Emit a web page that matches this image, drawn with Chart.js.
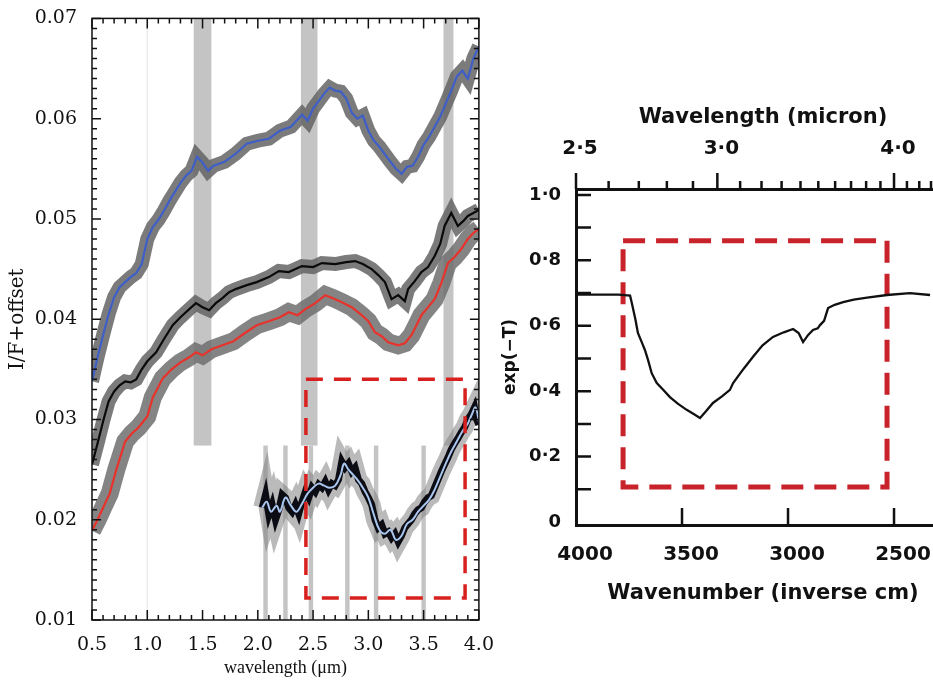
<!DOCTYPE html>
<html>
<head>
<meta charset="utf-8">
<script src="https://cdn.jsdelivr.net/npm/chart.js@4.4.1/dist/chart.umd.min.js"></script>
<style>
  html, body { margin: 0; padding: 0; background: #fff; overflow: hidden; width: 933px; height: 682px; }
  #left { position: absolute; left: 0; top: 0; }
  #right { position: absolute; left: 500px; top: 0; }
</style>
</head>
<body>
<canvas id="left" width="500" height="682"></canvas>
<canvas id="right" width="450" height="682"></canvas>
<script>
// ---- left panel: I/F spectra (wavelength in micron) ----
const blueWl = [0.50,0.55,0.60,0.65,0.70,0.75,0.80,0.85,0.90,0.95,1.00,1.05,1.10,1.15,1.20,1.25,1.30,1.35,1.40,1.45,1.50,1.55,1.60,1.70,1.80,1.90,2.00,2.10,2.20,2.30,2.40,2.45,2.50,2.60,2.65,2.70,2.75,2.80,2.85,2.90,2.95,3.00,3.05,3.10,3.20,3.25,3.30,3.35,3.40,3.45,3.50,3.55,3.60,3.65,3.70,3.75,3.80,3.85,3.90,3.95,4.00];
const blueIF = [0.0338,0.0362,0.0384,0.0405,0.0422,0.0432,0.0437,0.0442,0.0446,0.0455,0.0480,0.0492,0.0499,0.0508,0.0518,0.0527,0.0536,0.0543,0.0548,0.0562,0.0556,0.0548,0.0553,0.0557,0.0565,0.0575,0.0578,0.0580,0.0588,0.0592,0.0604,0.0598,0.0610,0.0625,0.0631,0.0628,0.0627,0.0620,0.0606,0.0600,0.0603,0.0588,0.0578,0.0572,0.0557,0.0550,0.0545,0.0552,0.0553,0.0562,0.0574,0.0582,0.0592,0.0602,0.0615,0.0628,0.0642,0.0648,0.0640,0.0660,0.0672];

const blackWl = [0.50,0.55,0.60,0.65,0.70,0.75,0.80,0.85,0.90,0.95,1.00,1.08,1.15,1.23,1.30,1.38,1.44,1.50,1.56,1.62,1.68,1.74,1.80,1.90,1.99,2.10,2.19,2.28,2.40,2.50,2.58,2.70,2.80,2.88,2.95,3.03,3.09,3.15,3.21,3.27,3.33,3.36,3.42,3.48,3.54,3.60,3.65,3.69,3.75,3.81,3.86,3.90,3.95,4.00];
const blackIF = [0.0255,0.0276,0.0298,0.0318,0.0328,0.0334,0.0338,0.0337,0.0340,0.0350,0.0358,0.0367,0.0380,0.0394,0.0402,0.0410,0.0416,0.0412,0.0409,0.0416,0.0421,0.0427,0.0430,0.0434,0.0437,0.0442,0.0448,0.0447,0.0453,0.0452,0.0456,0.0455,0.0457,0.0458,0.0455,0.0450,0.0444,0.0437,0.0420,0.0424,0.0418,0.0430,0.0438,0.0447,0.0452,0.0463,0.0475,0.0493,0.0506,0.0493,0.0498,0.0503,0.0506,0.0509];

const redWl = [0.50,0.55,0.60,0.66,0.72,0.80,0.86,0.92,1.00,1.05,1.14,1.22,1.30,1.38,1.44,1.50,1.58,1.68,1.78,1.88,1.99,2.10,2.20,2.28,2.36,2.43,2.52,2.61,2.68,2.76,2.85,2.94,3.00,3.06,3.12,3.18,3.27,3.33,3.39,3.44,3.48,3.54,3.60,3.66,3.72,3.78,3.84,3.90,3.95,4.00];
const redIF = [0.0189,0.0200,0.0212,0.0226,0.0250,0.0278,0.0286,0.0292,0.0303,0.0322,0.0341,0.0350,0.0357,0.0362,0.0367,0.0364,0.0370,0.0374,0.0378,0.0386,0.0394,0.0398,0.0402,0.0407,0.0404,0.0410,0.0416,0.0424,0.0421,0.0417,0.0412,0.0404,0.0398,0.0387,0.0383,0.0377,0.0374,0.0376,0.0384,0.0395,0.0404,0.0412,0.0420,0.0436,0.0456,0.0462,0.0470,0.0480,0.0486,0.0490];

const lowWl = [2.04,2.07,2.10,2.13,2.16,2.19,2.22,2.25,2.28,2.31,2.34,2.37,2.40,2.43,2.46,2.49,2.52,2.55,2.58,2.61,2.64,2.67,2.70,2.73,2.76,2.79,2.82,2.85,2.88,2.91,2.94,2.97,3.00,3.03,3.06,3.09,3.12,3.15,3.18,3.21,3.24,3.27,3.30,3.33,3.36,3.39,3.42,3.45,3.48,3.51,3.54,3.57,3.60,3.63,3.66,3.69,3.72,3.75,3.78,3.81,3.84,3.87,3.90,3.93,3.96,3.98,4.00];
const lowIF = [0.0212,0.0225,0.0205,0.0215,0.0200,0.0210,0.0225,0.0222,0.0212,0.0208,0.0215,0.0206,0.0218,0.0228,0.0222,0.0232,0.0228,0.0235,0.0232,0.0238,0.0230,0.0236,0.0234,0.0240,0.0258,0.0252,0.0256,0.0248,0.0252,0.0240,0.0236,0.0228,0.0222,0.0215,0.0200,0.0192,0.0195,0.0186,0.0188,0.0182,0.0186,0.0178,0.0184,0.0192,0.0196,0.0200,0.0206,0.0210,0.0212,0.0218,0.0222,0.0224,0.0232,0.0240,0.0248,0.0255,0.0262,0.0270,0.0276,0.0281,0.0287,0.0292,0.0300,0.0305,0.0312,0.0300,0.0295];

const smoothWl = [2.04,2.08,2.12,2.17,2.20,2.25,2.30,2.35,2.40,2.45,2.50,2.55,2.60,2.65,2.70,2.75,2.78,2.82,2.86,2.90,2.95,3.00,3.05,3.10,3.15,3.20,3.25,3.30,3.35,3.40,3.45,3.50,3.55,3.60,3.65,3.70,3.75,3.80,3.85,3.90,3.94,3.97,4.00];
const smoothIF = [0.0212,0.0218,0.0208,0.0214,0.0208,0.0222,0.0214,0.0208,0.0216,0.0226,0.0232,0.0236,0.0234,0.0232,0.0234,0.0245,0.0256,0.0250,0.0245,0.0240,0.0232,0.0222,0.0205,0.0190,0.0186,0.0190,0.0180,0.0184,0.0196,0.0200,0.0208,0.0214,0.0220,0.0230,0.0243,0.0256,0.0268,0.0278,0.0288,0.0296,0.0306,0.0312,0.0298];

// masked regions: [from, to] micron
const upperBands = [[1.42, 1.58], [2.39, 2.54], [3.68, 3.77]];
const lowerLines = [2.07, 2.25, 2.48, 2.81, 3.07, 3.50];
const maskEdge = 0.0274;

// red dashed box, left panel
const boxWl = [2.435, 3.875];
const boxIF = [0.0122, 0.0340];

const leftXTicks = [0.5, 1.0, 1.5, 2.0, 2.5, 3.0, 3.5, 4.0];
const leftYTicks = [0.01, 0.02, 0.03, 0.04, 0.05, 0.06, 0.07];

// ---- right panel: exp(-T) vs wavenumber ----
const waveNum = [4000,3900,3800,3745,3737,3720,3708,3690,3675,3660,3643,3619,3590,3557,3520,3478,3445,3415,3385,3354,3310,3274,3259,3210,3165,3120,3071,3020,2976,2950,2929,2905,2882,2860,2849,2830,2811,2780,2740,2690,2627,2533,2425,2330];
const expT = [0.695,0.695,0.695,0.692,0.670,0.620,0.578,0.550,0.526,0.495,0.455,0.425,0.405,0.382,0.362,0.343,0.330,0.318,0.340,0.364,0.385,0.404,0.425,0.468,0.505,0.540,0.566,0.580,0.590,0.578,0.550,0.572,0.587,0.592,0.602,0.615,0.654,0.664,0.672,0.680,0.686,0.694,0.700,0.694];

const rBoxNum = [3778, 2533];
const rBoxT = [0.107, 0.86];

const rightYTicks = [0, 0.2, 0.4, 0.6, 0.8, 1.0];
const rightXTicks = [4000, 3500, 3000, 2500];
const micronTicks = [2.5, 3.0, 4.0];

const pts = (xs, ys) => xs.map((v, i) => ({ x: v, y: ys[i] }));
const boxPts = (xs, ys) => [
  { x: xs[0], y: ys[1] }, { x: xs[1], y: ys[1] }, { x: xs[1], y: ys[0] },
  { x: xs[0], y: ys[0] }, { x: xs[0], y: ys[1] }
];
const range = (a, b, s) => { const r = []; for (let v = a; v <= b + s / 2; v += s) r.push(+v.toFixed(4)); return r; };
const fixTicks = list => scale => { scale.ticks = list.map(v => ({ value: v })); };

// left panel decorations: grey masks, frame and inward ticks
const leftDeco = {
  id: 'leftDeco',
  beforeDatasetsDraw(chart) {
    const { ctx, scales: { x, y } } = chart;
    ctx.save();
    ctx.fillStyle = '#e6e6e6';
    const xa = x.getPixelForValue(0.995), xb = x.getPixelForValue(1.005);
    ctx.fillRect(xa, y.getPixelForValue(0.07), xb - xa, y.getPixelForValue(0.01) - y.getPixelForValue(0.07));
    ctx.fillStyle = '#c4c4c4';
    upperBands.forEach(b => {
      const x0 = x.getPixelForValue(b[0]), x1 = x.getPixelForValue(b[1]);
      const y0 = y.getPixelForValue(0.07), y1 = y.getPixelForValue(maskEdge);
      ctx.fillRect(x0, y0, x1 - x0, y1 - y0);
    });
    lowerLines.forEach(c => {
      const x0 = x.getPixelForValue(c - 0.02), x1 = x.getPixelForValue(c + 0.02);
      const y0 = y.getPixelForValue(maskEdge), y1 = y.getPixelForValue(0.01);
      ctx.fillRect(x0, y0, x1 - x0, y1 - y0);
    });
    ctx.restore();
  },
  afterDatasetsDraw(chart) {
    const { ctx, chartArea: a, scales: { x, y } } = chart;
    ctx.save();
    ctx.strokeStyle = '#111';
    ctx.lineWidth = 1.5;
    ctx.strokeRect(a.left, a.top, a.right - a.left, a.bottom - a.top);
    ctx.beginPath();
    range(0.5, 4.0, 0.1).forEach(v => {
      const px = x.getPixelForValue(v);
      const len = Math.abs(v * 2 - Math.round(v * 2)) < 1e-6 ? 10 : 5;
      ctx.moveTo(px, a.bottom); ctx.lineTo(px, a.bottom - len);
      ctx.moveTo(px, a.top); ctx.lineTo(px, a.top + len);
    });
    range(0.010, 0.070, 0.001).forEach(v => {
      const py = y.getPixelForValue(v);
      const len = Math.abs(v * 100 - Math.round(v * 100)) < 1e-6 ? 9 : 5;
      ctx.moveTo(a.left, py); ctx.lineTo(a.left + len, py);
      ctx.moveTo(a.right, py); ctx.lineTo(a.right - len, py);
    });
    ctx.stroke();
    ctx.restore();
  }
};

const line = (data, color, width, extra = {}) => Object.assign({
  data, borderColor: color, borderWidth: width, pointRadius: 0, tension: 0, fill: false
}, extra);

// listed bottom layer first; Chart.js paints dataset 0 last, so reverse
const leftSets = [
  line(pts(blueWl, blueIF), 'rgba(100,100,100,0.85)', 14),
  line(pts(blueWl, blueIF), '#3f5fc8', 2.2),
  line(pts(blackWl, blackIF), 'rgba(100,100,100,0.85)', 14),
  line(pts(blackWl, blackIF), '#0a0a0a', 2.2),
  line(pts(redWl, redIF), 'rgba(110,110,110,0.85)', 18),
  line(pts(redWl, redIF), '#e8322c', 2.2),
  line(pts(lowWl, lowIF), 'rgba(130,130,130,0.55)', 18),
  line(pts(lowWl, lowIF), '#0c0c14', 7),
  line(pts(smoothWl, smoothIF), '#a9c6ee', 2, { tension: 0.4 }),
  line(boxPts(boxWl, boxIF), '#d8201e', 3.5, { borderDash: [17, 11], borderCapStyle: 'butt' })
].reverse();

new Chart(document.getElementById('left'), {
  type: 'line',
  data: { datasets: leftSets },
  options: {
    responsive: false,
    animation: false,
    layout: { padding: { top: 14, right: 19, left: 0, bottom: 0 } },
    plugins: { legend: { display: false }, tooltip: { enabled: false } },
    scales: {
      x: {
        type: 'linear', min: 0.5, max: 4.0,
        afterBuildTicks: fixTicks(leftXTicks),
        afterFit: s => { s.height = 62; },
        grid: { display: false }, border: { display: false },
        ticks: { color: '#111', padding: 6, font: { family: 'DejaVu Serif', size: 19 }, callback: v => v.toFixed(1), maxRotation: 0, autoSkip: false },
        title: { display: true, text: 'wavelength (μm)', color: '#111', font: { family: 'Liberation Serif', size: 18 }, padding: { top: 0, bottom: 3 } }
      },
      y: {
        type: 'linear', min: 0.01, max: 0.07,
        afterBuildTicks: fixTicks(leftYTicks),
        afterFit: s => { s.width = 92; },
        grid: { display: false }, border: { display: false },
        ticks: { color: '#111', padding: 7, font: { family: 'DejaVu Serif', size: 19 }, callback: v => v.toFixed(2), autoSkip: false },
        title: { display: true, text: 'I/F+offset', color: '#111', font: { family: 'DejaVu Serif', size: 20 }, padding: { top: 6, bottom: 0 } }
      }
    }
  },
  plugins: [leftDeco]
});

// right panel ticks
const rightDeco = {
  id: 'rightDeco',
  afterDatasetsDraw(chart) {
    const { ctx, chartArea: a, scales: { x, y } } = chart;
    ctx.save();
    ctx.strokeStyle = '#111';
    ctx.lineWidth = 2.5;
    ctx.beginPath();
    range(0.1, 1.0, 0.1).forEach(v => {
      const py = y.getPixelForValue(v);
      ctx.moveTo(a.left, py); ctx.lineTo(a.left + 15, py);
    });
    rightXTicks.slice(1).forEach(v => {
      const px = x.getPixelForValue(v);
      ctx.moveTo(px, a.bottom); ctx.lineTo(px, a.bottom - 17);
    });
    range(2.5, 4.6, 0.1).forEach(l => {
      const px = x.getPixelForValue(10000 / l);
      const len = micronTicks.some(m => Math.abs(m - l) < 1e-6) ? 16 : 8;
      ctx.moveTo(px, a.top); ctx.lineTo(px, a.top - len);
    });
    ctx.stroke();
    ctx.restore();
  }
};

const boldSans = size => ({ family: 'DejaVu Sans', size, weight: 'bold' });
const dotLabel = v => v === 0 ? '0' : v.toFixed(1).replace('.', '·');

new Chart(document.getElementById('right'), {
  type: 'line',
  data: {
    datasets: [
      line(pts(waveNum, expT), '#111', 2.3),
      line(boxPts(rBoxNum, rBoxT), '#c8232b', 5, { borderDash: [22, 11], borderCapStyle: 'butt' })
    ]
  },
  options: {
    responsive: false,
    animation: false,
    layout: { padding: 0 },
    plugins: { legend: { display: false }, tooltip: { enabled: false } },
    scales: {
      x: {
        type: 'linear', min: 2236, max: 4000, reverse: true, position: 'bottom',
        afterBuildTicks: fixTicks(rightXTicks),
        afterFit: s => { s.height = 157; },
        grid: { display: false }, border: { display: true, color: '#111', width: 3 },
        ticks: { color: '#111', padding: 10, labelOffset: 9, font: boldSans(20), callback: v => String(v), maxRotation: 0, autoSkip: false },
        title: { display: true, text: 'Wavenumber (inverse cm)', color: '#111', font: boldSans(21), padding: { top: 0, bottom: 76 } }
      },
      x2: {
        type: 'linear', min: 2236, max: 4000, reverse: true, position: 'top',
        afterBuildTicks: s => { s.ticks = micronTicks.map(l => ({ value: 10000 / l })); },
        afterFit: s => { s.height = 189; },
        grid: { display: false }, border: { display: true, color: '#111', width: 3 },
        ticks: { color: '#111', padding: 20, labelOffset: 4, font: boldSans(20), callback: v => dotLabel(10000 / v), maxRotation: 0, autoSkip: false },
        title: { display: true, text: 'Wavelength (micron)', color: '#111', font: boldSans(21), padding: { top: 105, bottom: 0 } }
      },
      y: {
        type: 'linear', min: -0.009, max: 1.018,
        afterBuildTicks: fixTicks(rightYTicks),
        afterFit: s => { s.width = 76; },
        grid: { display: false }, border: { display: true, color: '#111', width: 3 },
        ticks: { color: '#111', padding: 7, font: boldSans(18), callback: dotLabel, autoSkip: false },
        title: { display: true, text: 'exp(−T)', color: '#111', font: boldSans(17), padding: { top: 0, bottom: 0 } }
      }
    }
  },
  plugins: [rightDeco]
});
</script>
</body>
</html>
